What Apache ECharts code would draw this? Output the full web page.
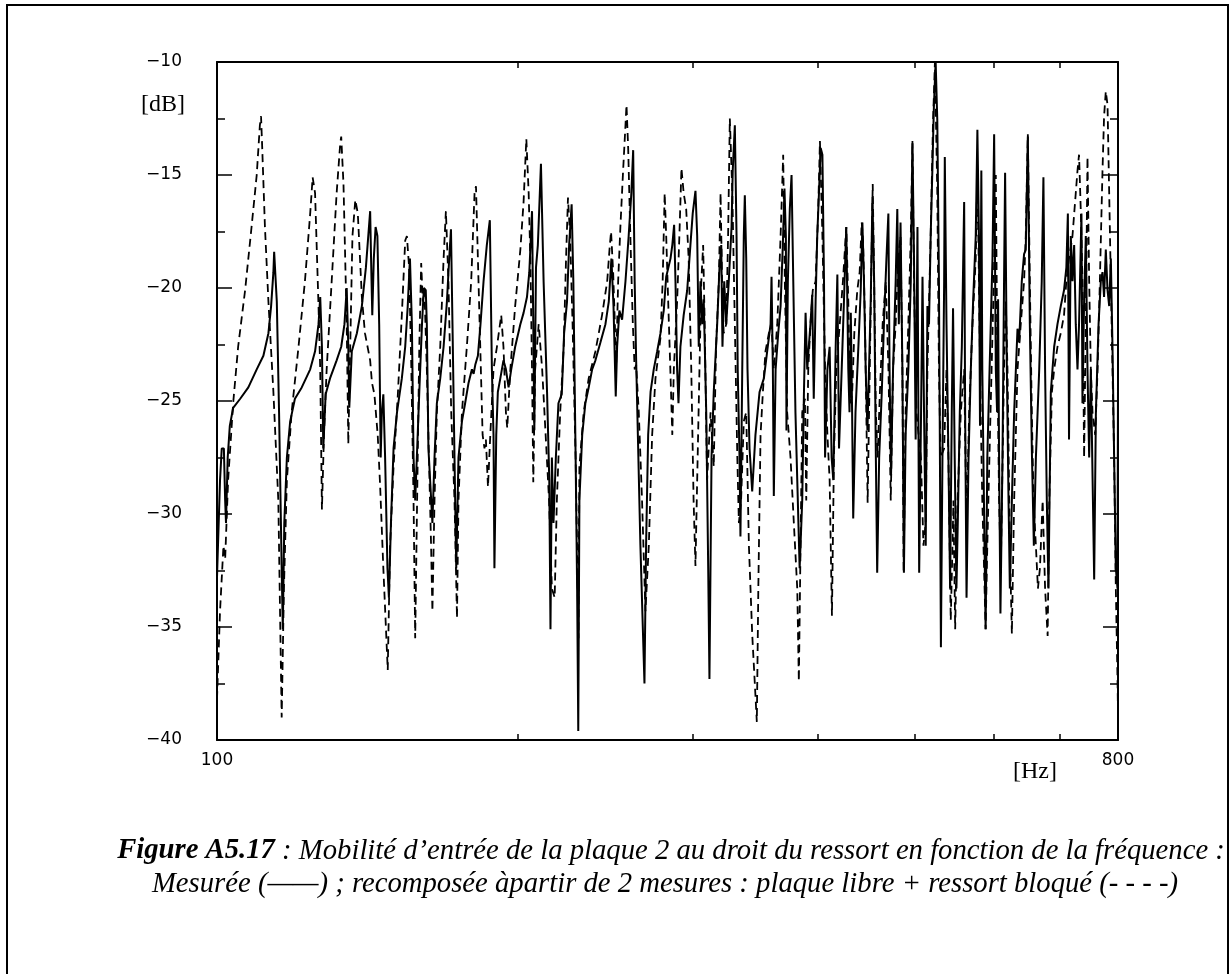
<!DOCTYPE html>
<html>
<head>
<meta charset="utf-8">
<script src="https://cdn.jsdelivr.net/npm/echarts@6/dist/echarts.min.js"></script>
<style>
html,body{margin:0;padding:0;background:#fff;}
#chart{width:1231px;height:974px;}
</style>
</head>
<body>
<div id="chart"></div>
<script>
// Frequency axis (Hz) and level axis (dB)
const xTickValues = [200, 300, 400, 500, 600, 700];
const xLabelValues = [100, 800];

// Measured (solid)
const measuredFreq = [100.0,100.7,101.1,101.6,101.9,102.1,102.5,103.0,103.8,105.5,107.5,109.6,111.3,112.6,113.3,113.9,114.1,114.8,115.4,116.1,116.4,116.8,117.5,118.4,119.7,121.6,124.0,125.4,126.4,126.9,127.4,127.8,128.5,129.8,131.8,133.2,134.2,134.9,135.4,135.7,136.5,138.1,139.7,141.0,142.4,142.7,143.1,143.6,144.2,144.8,145.4,145.9,146.3,146.8,147.4,148.2,148.7,149.4,150.3,151.5,
153.2,154.4,155.3,156.1,156.8,157.4,158.0,158.6,159.5,160.5,161.2,161.9,162.3,162.9,164.4,165.2,166.1,167.4,168.7,170.0,170.9,171.6,172.2,173.0,173.7,174.6,176.0,177.3,178.7,180.1,180.8,181.5,182.6,183.7,185.0,186.4,187.7,188.6,189.3,189.7,190.5,191.2,192.3,193.7,194.8,196.0,197.2,199.0,201.4,202.9,204.5,205.6,206.9,207.5,208.0,208.8,209.7,211.2,212.5,214.2,215.3,215.9,216.6,217.4,218.6,219.9,221.6,222.8,224.3,225.4,226.7,227.6,228.8,229.6,230.2,
230.8,232.3,234.0,235.8,237.7,239.5,242.3,245.1,247.0,248.5,249.7,251.0,251.8,253.1,254.7,256.7,258.6,260.2,261.3,262.2,263.1,265.7,268.2,269.2,270.5,272.0,274.0,276.2,278.3,280.4,282.0,284.8,286.0,287.2,288.1,289.2,290.1,291.4,293.6,296.0,298.2,299.8,301.7,302.9,304.0,305.2,306.4,307.5,309.3,310.7,311.6,313.1,314.7,317.2,318.9,320.2,321.1,322.4,323.9,325.8,327.9,328.8,330.4,331.7,332.6,334.0,334.7,336.1,337.3,338.1,339.2,340.2,341.8,343.9,346.5,349.8,
353.3,356.0,358.8,359.6,360.7,361.5,363.0,365.2,367.2,369.1,370.5,371.7,372.2,373.4,375.1,376.6,378.1,380.0,381.6,383.7,386.0,387.5,389.0,390.5,391.9,393.4,395.0,396.4,398.1,399.6,401.2,402.8,404.4,405.9,406.9,409.1,411.2,413.1,414.7,417.0,418.6,420.2,422.8,425.0,427.3,429.3,430.5,431.8,433.1,434.2,436.5,439.4,441.8,443.5,445.1,446.9,448.7,452.1,453.9,455.7,457.5,458.9,461.0,463.8,466.1,468.8,470.9,472.2,473.8,476.0,478.9,480.7,482.4,484.3,486.4,488.1,490.0,493.1,495.9,497.8,499.6,501.5,503.6,505.6,507.8,509.5,511.3,513.3,515.3,517.2,519.2,521.2,523.1,525.2,
527.2,529.2,530.4,531.6,533.5,535.6,536.4,538.5,540.9,543.0,545.1,546.7,548.8,551.0,552.7,555.3,557.9,560.9,562.2,564.0,566.6,569.6,572.6,576.1,578.3,580.4,581.8,583.6,584.9,587.1,589.4,591.7,594.8,598.8,601.1,603.4,605.2,606.6,608.0,609.9,612.8,615.0,616.5,619.0,621.4,623.3,626.2,629.5,634.4,636.8,640.7,644.1,646.6,649.7,652.7,655.7,658.8,661.9,667.0,670.9,673.5,676.1,678.8,681.4,685.1,690.4,695.7,701.0,706.3,710.1,712.6,714.5,717.4,720.2,723.0,725.7,728.6,731.2,735.3,737.0,739.8,742.7,745.6,748.5,751.4,757.2,760.2,764.9,768.9,771.9,774.7,777.8,780.9,783.9,786.9,789.9,792.9,796.0,799.1,800.0];
const measuredDb = [-32.8,-28.5,-27.1,-27.1,-29.4,-30.4,-27.5,-26.1,-25.3,-24.9,-24.4,-23.6,-23.0,-22.0,-20.8,-19.3,-18.4,-20.6,-25.5,-32.4,-35.1,-30.4,-27.5,-25.9,-24.9,-24.4,-23.6,-22.8,-21.6,-20.4,-22.6,-27.1,-24.7,-24.0,-23.2,-22.6,-21.6,-20.0,-22.6,-25.3,-22.8,-22.0,-20.8,-19.1,-16.6,-18.7,-21.2,-18.7,-17.3,-17.7,-21.6,-27.5,-25.5,-24.7,-27.5,-32.4,-33.7,-30.4,-27.1,-25.5,
-24.0,-22.6,-20.8,-18.7,-21.6,-27.5,-29.4,-27.5,-24.6,-21.6,-20.0,-20.1,-21.6,-27.1,-30.4,-27.5,-25.1,-24.0,-22.6,-20.6,-18.7,-17.4,-21.6,-27.5,-32.4,-27.5,-25.9,-25.1,-24.2,-23.6,-23.8,-23.4,-23.0,-21.6,-19.7,-18.1,-17.0,-23.6,-26.5,-32.4,-26.5,-24.6,-24.0,-23.2,-23.6,-24.4,-23.6,-22.6,-21.6,-21.1,-20.4,-19.3,-16.6,-21.6,-26.3,-19.1,-18.1,-14.5,-19.7,-24.6,-28.5,-35.1,-27.5,-30.4,-27.5,-25.1,-24.7,-22.0,-20.6,-18.1,-16.3,-19.7,-27.5,-33.3,-39.6,
-29.4,-26.5,-25.1,-24.4,-23.6,-23.2,-22.4,-21.6,-20.6,-18.7,-20.8,-24.8,-22.6,-21.0,-21.4,-19.7,-17.7,-15.8,-13.9,-19.7,-23.2,-31.4,-37.5,-31.4,-26.5,-24.6,-23.6,-22.8,-22.0,-21.0,-19.5,-18.7,-18.1,-17.2,-19.7,-23.6,-25.1,-22.6,-21.2,-20.1,-18.1,-16.7,-15.7,-17.7,-22.6,-19.7,-21.6,-20.5,-25.5,-32.4,-37.3,-27.5,-24.6,-21.6,-19.1,-18.1,-22.6,-19.7,-21.6,-19.7,-17.3,-14.8,-12.8,-17.7,-23.6,-27.5,-31.0,-23.6,-17.7,-15.9,-18.7,-23.6,-27.1,-29.0,-26.5,-24.6,
-24.0,-22.8,-21.6,-19.5,-23.6,-29.2,-23.6,-22.0,-20.8,-18.1,-15.6,-17.7,-26.3,-19.7,-16.5,-15.0,-19.7,-25.5,-28.5,-32.4,-29.4,-24.7,-21.1,-23.6,-22.6,-21.6,-20.3,-24.9,-20.6,-17.7,-15.8,-13.8,-14.1,-19.7,-27.5,-23.6,-22.6,-27.5,-28.5,-22.6,-19.4,-27.1,-23.6,-20.6,-17.3,-23.6,-25.5,-21.1,-25.5,-30.2,-25.5,-22.6,-20.1,-17.1,-19.7,-23.6,-26.3,-20.6,-16.0,-19.7,-27.5,-32.6,-27.5,-24.6,-21.6,-18.7,-16.7,-23.6,-28.3,-23.6,-19.7,-16.5,-21.6,-17.1,-23.6,-32.6,-26.5,-23.6,-19.7,-13.6,-18.7,-26.7,-17.3,-32.6,-25.5,-19.5,-25.5,-31.4,-20.8,-21.6,-17.7,-14.8,-11.9,-10.0,
-12.6,-19.7,-27.5,-35.9,-27.5,-19.7,-14.2,-21.6,-27.5,-33.3,-25.5,-20.9,-27.5,-33.3,-30.4,-25.5,-22.6,-16.2,-25.5,-33.7,-27.5,-23.6,-20.6,-17.7,-13.0,-17.7,-26.1,-14.8,-23.6,-29.4,-35.1,-27.5,-23.6,-18.7,-13.2,-23.6,-25.5,-20.5,-27.5,-34.4,-27.5,-19.7,-14.9,-23.6,-29.4,-33.3,-29.4,-25.5,-21.8,-22.4,-19.7,-18.5,-18.3,-13.3,-21.6,-27.1,-31.4,-27.5,-23.6,-19.7,-15.1,-23.6,-29.4,-33.3,-24.6,-22.6,-21.6,-20.8,-20.1,-19.1,-16.7,-26.7,-17.7,-19.7,-18.1,-21.6,-23.6,-21.6,-16.7,-25.1,-20.6,-17.7,-23.6,-27.5,-23.6,-32.9,-25.5,-21.6,-19.7,-19.3,-20.4,-18.3,-20.1,-20.8,-18.7,-22.6,-27.5,-32.4,-33.3,-24.0];

// Recomposed: free plate + blocked spring (dashed)
const recomposedFreq = [100.0,100.7,101.5,101.9,102.6,103.8,105.0,106.7,108.3,109.6,110.4,110.7,111.0,111.7,112.6,113.9,115.2,116.1,116.7,117.5,118.8,120.7,122.5,124.0,124.7,125.4,126.4,126.9,127.4,128.0,128.8,130.3,131.8,132.9,133.2,133.9,134.9,135.4,136.0,136.7,137.6,138.4,139.7,140.7,142.4,143.0,143.8,144.9,145.7,146.8,148.3,149.1,150.3,151.8,
153.2,154.4,155.0,155.8,156.6,157.4,158.0,158.7,159.5,160.2,160.8,161.4,162.3,163.1,163.9,164.4,165.2,166.1,167.4,168.7,169.6,170.6,171.7,173.0,174.0,174.6,176.0,178.0,179.8,181.2,181.8,182.6,183.6,184.6,185.4,186.0,186.9,187.9,189.3,190.8,192.7,193.7,194.8,195.4,196.8,199.0,201.4,202.9,204.2,205.3,206.1,206.9,207.5,208.4,210.1,211.8,213.5,215.2,216.6,218.0,219.1,220.8,222.6,223.8,224.8,225.9,227.2,228.8,230.3,
230.8,233.1,235.8,239.5,243.2,246.1,247.6,248.3,249.5,250.5,251.2,252.4,253.7,255.3,256.7,257.3,258.3,259.6,261.1,262.2,263.1,264.7,266.7,268.8,270.9,273.0,275.1,278.3,279.7,281.0,282.0,283.3,284.7,286.0,287.0,289.2,290.7,292.1,293.6,295.3,297.0,298.8,300.4,301.7,302.9,304.5,305.8,307.1,308.2,309.9,312.4,314.7,316.4,318.4,319.7,320.8,322.0,323.9,325.3,326.6,328.5,330.4,332.3,333.5,335.2,337.3,339.2,341.3,343.9,347.6,
348.8,350.6,352.5,354.6,357.4,359.6,361.5,364.4,367.2,369.4,370.8,372.8,375.7,378.6,381.6,383.0,384.5,386.0,388.4,389.6,391.4,393.4,395.5,398.1,400.4,402.1,404.4,406.9,409.1,411.2,413.4,415.3,417.6,420.9,424.0,427.3,429.3,431.2,433.1,435.3,438.3,440.7,442.8,444.2,446.2,448.9,451.1,453.3,454.2,455.7,457.5,459.3,461.8,464.7,468.1,471.0,473.5,476.0,478.9,481.8,484.3,486.4,487.8,490.0,493.1,495.9,497.8,499.6,502.4,504.9,507.6,510.6,513.3,515.3,519.2,521.9,524.3,
527.2,529.2,531.2,535.6,538.5,540.9,543.8,546.0,547.2,549.4,552.4,556.6,560.9,564.0,567.4,571.8,576.1,578.3,580.4,582.7,584.9,589.4,591.7,596.1,600.6,603.4,605.7,608.0,610.4,615.0,617.5,619.9,623.3,626.2,629.5,634.4,639.2,644.1,646.6,649.7,652.7,655.7,658.3,661.9,665.0,668.1,672.3,676.1,680.1,682.7,686.8,690.4,695.7,701.0,706.3,710.1,714.5,720.2,725.7,728.6,731.2,734.3,737.0,739.8,742.7,745.6,748.5,751.4,754.3,759.0,763.2,767.2,771.9,774.7,777.8,780.9,783.9,786.9,789.9,792.9,796.0,799.1,800.0];
const recomposedDb = [-38.2,-34.3,-31.4,-32.0,-28.5,-25.1,-22.6,-20.1,-17.3,-15.0,-12.8,-12.4,-13.8,-17.3,-20.6,-24.6,-29.4,-39.0,-33.3,-28.5,-25.5,-22.6,-19.7,-16.7,-15.1,-15.8,-20.8,-23.6,-29.8,-26.5,-23.6,-19.7,-15.8,-13.6,-13.3,-15.4,-21.6,-26.9,-22.6,-17.7,-16.1,-16.7,-20.4,-22.0,-23.2,-24.2,-24.7,-26.5,-28.7,-32.4,-36.9,-31.4,-27.9,-24.7,
-21.2,-17.9,-17.7,-19.1,-23.6,-29.4,-35.5,-29.4,-22.6,-18.9,-20.6,-20.1,-23.6,-27.5,-31.4,-34.3,-29.4,-25.5,-22.6,-18.7,-16.6,-19.7,-25.5,-29.4,-34.6,-29.4,-25.5,-22.6,-19.7,-15.8,-15.5,-18.7,-22.6,-26.5,-27.1,-26.7,-28.8,-26.5,-23.6,-22.6,-21.2,-22.6,-25.5,-26.2,-23.6,-20.8,-18.3,-16.2,-13.4,-15.8,-18.7,-23.6,-28.6,-23.6,-21.6,-23.6,-26.5,-29.4,-33.3,-33.7,-29.4,-25.5,-22.6,-18.7,-16.0,-17.7,-21.6,-27.5,-35.5,
-27.9,-25.5,-24.0,-22.8,-21.2,-19.7,-18.1,-17.5,-19.3,-21.6,-23.6,-19.7,-17.3,-14.8,-12.8,-11.9,-13.8,-17.7,-21.6,-23.6,-23.4,-25.5,-29.4,-34.3,-31.4,-26.5,-24.0,-22.2,-19.7,-15.8,-17.7,-20.6,-23.6,-26.5,-23.6,-20.6,-17.7,-14.7,-15.8,-16.5,-18.7,-23.6,-29.4,-32.3,-28.5,-23.6,-19.7,-18.1,-21.6,-28.5,-25.5,-27.9,-22.6,-19.7,-15.8,-19.7,-22.0,-21.6,-17.7,-12.5,-15.8,-21.6,-27.5,-30.4,-29.4,-25.9,-25.5,-31.4,-35.3,-39.2,
-33.3,-26.5,-24.6,-22.8,-22.0,-21.6,-23.6,-21.6,-17.7,-14.1,-19.7,-25.5,-27.5,-30.4,-33.3,-37.4,-31.4,-25.5,-24.9,-29.4,-23.6,-21.6,-20.1,-19.7,-16.7,-13.5,-17.7,-23.6,-26.5,-28.5,-34.5,-27.5,-23.6,-21.6,-19.7,-17.3,-20.6,-25.1,-24.7,-22.0,-20.1,-19.3,-17.1,-17.9,-21.6,-29.5,-23.6,-17.7,-15.4,-19.7,-25.5,-27.5,-24.6,-21.6,-19.7,-23.6,-29.4,-23.6,-21.6,-18.7,-17.7,-23.6,-32.6,-25.5,-21.6,-17.7,-13.5,-19.7,-25.5,-26.5,-27.5,-31.4,-30.4,-23.6,-17.7,-12.8,-10.0,
-15.8,-23.6,-27.5,-27.1,-23.6,-27.5,-34.7,-31.4,-29.4,-35.1,-29.4,-25.5,-23.6,-30.4,-25.5,-21.6,-18.7,-14.8,-19.7,-25.5,-29.4,-35.1,-31.4,-25.5,-19.7,-15.0,-23.6,-29.4,-32.4,-23.6,-20.6,-23.6,-31.4,-35.3,-29.4,-23.6,-21.6,-19.7,-17.7,-13.2,-19.7,-25.5,-29.4,-31.4,-33.3,-32.4,-29.4,-33.3,-35.4,-29.4,-24.6,-23.6,-22.6,-22.0,-21.2,-19.7,-18.7,-17.7,-15.8,-14.8,-14.1,-16.7,-19.7,-27.5,-21.6,-14.2,-19.7,-23.6,-25.5,-26.5,-23.6,-19.7,-14.8,-12.4,-11.3,-11.9,-15.8,-19.7,-23.6,-27.5,-33.3,-37.3,-38.8];

function pairs(fs, vs) { return fs.map((f, i) => [f, vs[i]]); }

const AXIS_FONT = 'DejaVu Sans';
const chart = echarts.init(document.getElementById('chart'), null, {renderer: 'canvas'});

function xAxisDef(pos, showLabels) {
  return {
    type: 'log', logBase: 10, min: 100, max: 800, position: pos,
    axisLine: {show: true, lineStyle: {color: '#000', width: 2}},
    axisTick: {show: true, inside: true, length: 6, lineStyle: {color: '#000', width: 1.5}, customValues: xTickValues},
    axisLabel: {show: showLabels, customValues: xLabelValues, color: '#000', fontFamily: AXIS_FONT, fontSize: 17, margin: 12},
    splitLine: {show: false}, minorTick: {show: false}, minorSplitLine: {show: false}
  };
}
function yAxisDef(pos, showLabels) {
  return {
    type: 'value', min: -40, max: -10, interval: 5, position: pos,
    axisLine: {show: true, lineStyle: {color: '#000', width: 2}},
    axisTick: {show: true, inside: true, length: 15, lineStyle: {color: '#000', width: 1.5}},
    minorTick: {show: true, splitNumber: 2, length: 8, lineStyle: {color: '#000', width: 1.5}},
    axisLabel: {show: showLabels, color: '#000', fontFamily: AXIS_FONT, fontSize: 17, margin: 35,
      formatter: v => String(v).replace('-', '\u2212')},
    splitLine: {show: false}
  };
}

const capFont = '"Liberation Serif", "Times New Roman", serif';
const capSize = 28.7;
chart.setOption({
  animation: false,
  backgroundColor: '#fff',
  grid: {left: 217, right: 113, top: 62, bottom: 234, containLabel: false},
  xAxis: [xAxisDef('bottom', true), xAxisDef('top', false)],
  yAxis: [yAxisDef('left', true), yAxisDef('right', false)],
  series: [
    {name: 'Mesurée', type: 'line', xAxisIndex: 0, yAxisIndex: 0, data: pairs(measuredFreq, measuredDb),
     showSymbol: false, symbol: 'none', clip: true, lineStyle: {color: '#000', width: 2, type: 'solid'}},
    {name: 'Recomposée', type: 'line', xAxisIndex: 0, yAxisIndex: 0, data: pairs(recomposedFreq, recomposedDb),
     showSymbol: false, symbol: 'none', clip: true, lineStyle: {color: '#000', width: 1.8, type: [8, 5]}}
  ],
  graphic: [
    {type: 'rect', shape: {x: 7, y: 5, width: 1221, height: 1000}, style: {fill: 'none', stroke: '#000', lineWidth: 2}, silent: true},
    {type: 'text', x: 163, y: 105, style: {text: '[dB]', font: '24px ' + capFont, fill: '#000', align: 'center', verticalAlign: 'middle'}},
    {type: 'text', x: 1035, y: 772, style: {text: '[Hz]', font: '24px ' + capFont, fill: '#000', align: 'center', verticalAlign: 'middle'}},
    {type: 'text', x: 671, y: 851, style: {
      text: '{b|Figure A5.17}{i| : Mobilité d’entrée de la plaque 2 au droit du ressort en fonction de la fréquence :}',
      align: 'center', verticalAlign: 'middle',
      rich: {
        b: {fontFamily: capFont, fontSize: capSize, fontStyle: 'italic', fontWeight: 'bold', fill: '#000'},
        i: {fontFamily: capFont, fontSize: capSize, fontStyle: 'italic', fill: '#000'}
      }}},
    {type: 'text', x: 665, y: 884, style: {
      text: 'Mesurée (——) ; recomposée àpartir de 2 mesures : plaque libre + ressort bloqué (- - - -)',
      font: 'italic ' + capSize + 'px ' + capFont, fill: '#000', align: 'center', verticalAlign: 'middle'}}
  ]
});
</script>
</body>
</html>
